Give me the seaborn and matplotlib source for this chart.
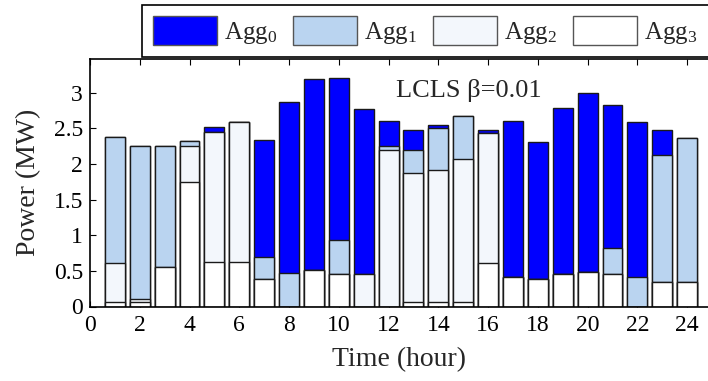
import numpy as np
import pandas as pd
import matplotlib
matplotlib.use("Agg")
import matplotlib.pyplot as plt
import seaborn as sns
from matplotlib.patches import Patch

# ===============================
# DATA (MW)
# ===============================
hours = list(range(1, 25))
agg0 = [0.00, 0.00, 0.00, 0.00, 0.07, 0.00, 1.65, 2.40, 2.68, 2.28, 2.32, 0.35,
        0.27, 0.04, 0.00, 0.04, 2.18, 1.92, 2.33, 2.51, 2.01, 2.16, 0.34, 0.00]
agg1 = [1.77, 2.14, 1.69, 0.07, 0.00, 0.00, 0.31, 0.47, 0.00, 0.48, 0.00, 0.06,
        0.33, 0.59, 0.60, 0.00, 0.00, 0.00, 0.00, 0.00, 0.37, 0.42, 1.79, 2.02]
agg2 = [0.54, 0.04, 0.00, 0.51, 1.82, 1.95, 0.00, 0.00, 0.00, 0.00, 0.45, 2.19,
        1.80, 1.84, 2.00, 1.82, 0.00, 0.00, 0.00, 0.00, 0.00, 0.00, 0.00, 0.00]
agg3 = [0.07, 0.07, 0.56, 1.74, 0.63, 0.63, 0.38, 0.00, 0.51, 0.45, 0.00, 0.00,
        0.07, 0.07, 0.07, 0.61, 0.42, 0.38, 0.45, 0.49, 0.45, 0.00, 0.34, 0.34]

series_names = [r"$\mathrm{Agg}_0$", r"$\mathrm{Agg}_1$", r"$\mathrm{Agg}_2$", r"$\mathrm{Agg}_3$"]
colors = ["#0000FF", "#BAD4F0", "#F3F7FC", "#FFFFFF"]
yticks = [0, 0.5, 1, 1.5, 2, 2.5, 3]
ytick_labels = ["0", "0.5", "1", "1.5", "2", "2.5", "3"]
xticks = list(range(0, 25, 2))

df = pd.DataFrame({"hour": hours, "agg0": agg0, "agg1": agg1, "agg2": agg2, "agg3": agg3})
# cumulative heights, drawn tallest first so the smaller ones sit on top
df["c3"] = df["agg3"]
df["c2"] = df["c3"] + df["agg2"]
df["c1"] = df["c2"] + df["agg1"]
df["c0"] = df["c1"] + df["agg0"]

# ===============================
# STYLE
# ===============================
sns.set_style("ticks")
plt.rcParams["font.family"] = ["Liberation Serif", "DejaVu Serif"]
plt.rcParams["mathtext.fontset"] = "custom"
plt.rcParams["mathtext.rm"] = "Liberation Serif"
plt.rcParams["mathtext.it"] = "Liberation Serif:italic"

fig = plt.figure(figsize=(7.08, 3.81), dpi=100)
ax = fig.add_axes([90 / 708, 1 - 306.5 / 381, 1 - 90 / 708, (306.5 - 59) / 381])

for col, c in zip(["c0", "c1", "c2", "c3"], colors):
    sns.barplot(data=df, x="hour", y=col, native_scale=True, width=0.8,
                color=c, edgecolor="#1a1a1a", linewidth=1.0, saturation=1,
                errorbar=None, ax=ax)

ax.set_xlim(0, 24.84)
ax.set_ylim(0, 3.47)
ax.set_xticks(xticks)
ax.set_xticklabels([str(t) for t in xticks])
ax.set_yticks(yticks)
ax.set_yticklabels(ytick_labels)
ax.tick_params(direction="in", length=4, width=0.8, labelsize=17, top=True, right=False,
               colors="black")
ax.tick_params(axis="x", pad=6)
ax.tick_params(axis="y", pad=5)
ax.spines["right"].set_visible(False)
for s in ["left", "bottom", "top"]:
    ax.spines[s].set_linewidth(1.2)
    ax.spines[s].set_color("black")

ax.set_xlabel("Time (hour)", fontsize=20, labelpad=8)
ax.set_ylabel("Power (MW)", fontsize=20, labelpad=9)
ax.text(0.495, 0.845, "LCLS β=0.01", transform=ax.transAxes, fontsize=19,
        ha="left", va="baseline")

handles = [Patch(facecolor=c, edgecolor="#555555", linewidth=1.0) for c in colors]
leg = fig.legend(handles, series_names, loc="upper left",
                 bbox_to_anchor=(142 / 708, 1 - 5 / 381), bbox_transform=fig.transFigure,
                 ncol=4, fontsize=18, frameon=True, fancybox=False, framealpha=1,
                 edgecolor="black", borderaxespad=0, borderpad=0.44,
                 handlelength=2.56, handleheight=1.4, handletextpad=0.28,
                 columnspacing=0.64)
leg.get_frame().set_linewidth(1.2)

fig.savefig("out.png", dpi=100)
